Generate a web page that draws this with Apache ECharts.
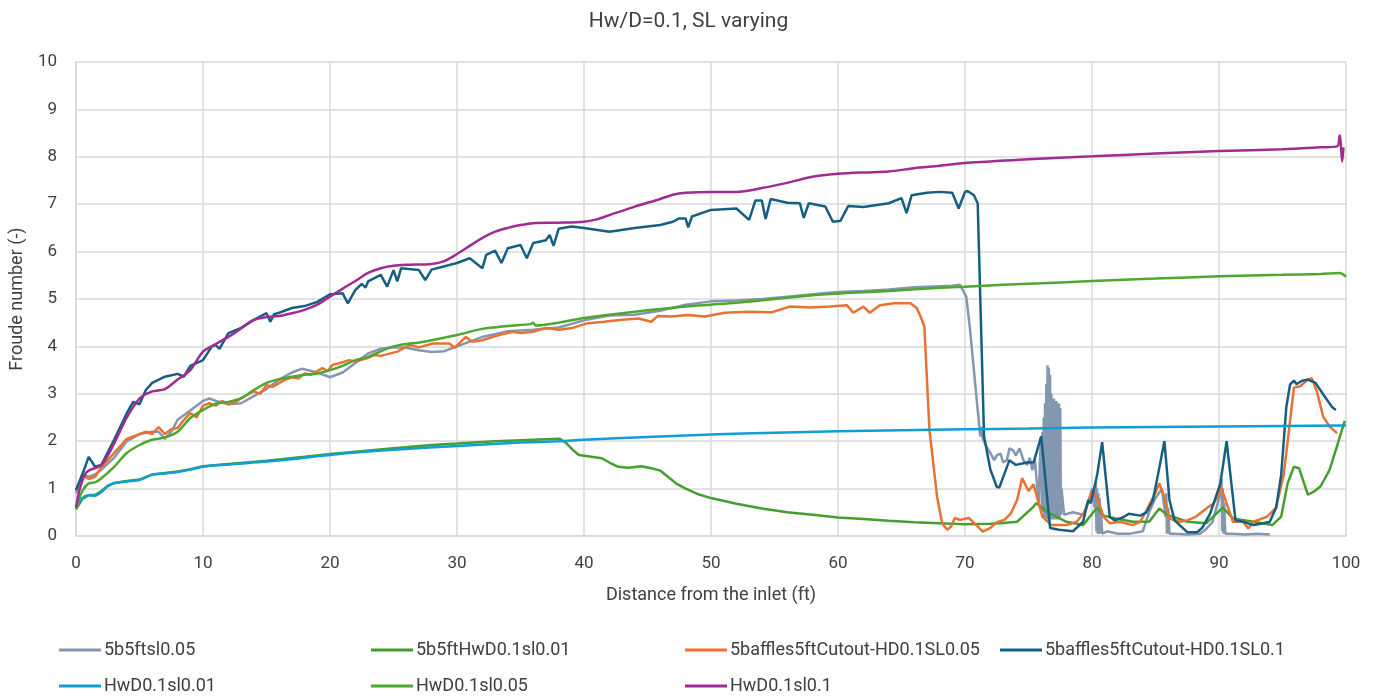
<!DOCTYPE html>
<html style="height: 100%">
<head>
  <meta charset="utf-8">
</head>
<body style="height: 100%; margin: 0">
  <div id="container" style="width: 1377px; height: 696px;"></div>
  <script type="text/javascript" src="https://cdn.jsdelivr.net/npm/echarts@6/dist/echarts.min.js"></script>
  <script type="text/javascript">
    // series names (legend order)
    var seriesNames = ['5b5ftsl0.05', '5b5ftHwD0.1sl0.01', '5baffles5ftCutout-HD0.1SL0.05',
                       '5baffles5ftCutout-HD0.1SL0.1', 'HwD0.1sl0.01', 'HwD0.1sl0.05', 'HwD0.1sl0.1'];
    var xTicks = [0, 10, 20, 30, 40, 50, 60, 70, 80, 90, 100];
    var yTicks = [0, 1, 2, 3, 4, 5, 6, 7, 8, 9, 10];

    // [distance (ft), Froude number]
    var b5ftsl005 = [[0,0.9],[0.5,1.3],[1,1.25],[1.5,1.3],[2,1.4],[3,1.65],[4,2.0],[5,2.15],[6,2.2],[6.5,2.2],[7,2.05],[7.5,2.2],[8,2.45],[9,2.65],[10,2.85],[10.5,2.9],[11,2.85],[12,2.78],[13,2.8],[14,2.95],[15,3.1],[16,3.3],[17,3.45],[17.8,3.53],[19,3.45],[20,3.35],[21,3.45],[22,3.65],[23,3.85],[24,3.95],[25,3.98],[26,3.97],[27,3.92],[28,3.88],[29,3.9],[30,4.0],[32,4.2],[34,4.32],[36,4.35],[38,4.4],[40,4.55],[42,4.65],[44,4.67],[46,4.75],[48,4.88],[50,4.95],[52,4.97],[54,5.0],[56,5.05],[58,5.1],[60,5.15],[62,5.17],[64,5.2],[66,5.25],[68,5.27],[69,5.28],[69.6,5.3],[70.1,5.05],[70.4,4.35],[70.7,3.5],[71.0,2.66],[71.2,2.1],[71.3,2.3],[71.4,2.05],[71.7,1.88],[72.0,1.75],[72.3,1.6],[72.5,1.7],[72.8,1.74],[73.0,1.55],[73.3,1.6],[73.5,1.85],[73.8,1.8],[74.0,1.7],[74.3,1.85],[74.6,1.6],[74.9,1.5],[75.1,1.65],[75.3,1.39],[75.5,1.6],[75.8,0.7],[75.9,1.6],[76.0,2.1],[76.05,0.6],[76.1,2.2],[76.15,0.5],[76.2,2.5],[76.25,0.4],[76.3,2.8],[76.35,0.4],[76.4,3.2],[76.45,0.35],[76.5,3.6],[76.55,0.35],[76.6,3.55],[76.65,0.35],[76.7,3.4],[76.75,0.35],[76.8,3.0],[76.85,0.35],[76.9,2.85],[76.95,0.35],[77.0,2.9],[77.05,0.35],[77.1,2.8],[77.15,0.35],[77.2,2.85],[77.25,0.35],[77.3,2.75],[77.35,0.35],[77.4,2.8],[77.45,0.4],[77.5,2.7],[77.55,0.45],[77.6,1.0],[77.8,0.45],[78.5,0.5],[79.3,0.45],[79.7,0.7],[80.0,1.0],[80.2,0.6],[80.3,1.15],[80.35,0.1],[80.4,1.0],[80.45,0.05],[80.5,0.9],[80.55,0.05],[80.6,0.8],[80.65,0.05],[80.7,0.6],[80.8,0.05],[81.2,0.1],[82,0.05],[83,0.05],[84,0.1],[84.5,0.5],[85.0,0.8],[85.5,1.0],[85.8,0.4],[85.85,0.9],[85.9,0.05],[86.0,0.6],[86.1,0.05],[86.5,0.05],[87.5,0.03],[88.5,0.05],[89.0,0.15],[89.5,0.3],[90.0,0.8],[90.2,1.2],[90.25,0.1],[90.3,1.0],[90.35,0.05],[90.4,0.7],[90.5,0.05],[91,0.05],[92,0.03],[93,0.05],[94,0.03]];

    var b5ftHwD01sl001 = [[0,0.56],[0.5,0.78],[1,0.86],[1.5,0.87],[2,0.95],[2.5,1.06],[3,1.12],[4,1.16],[5,1.19],[6,1.3],[7,1.33],[8,1.36],[9,1.41],[10,1.47],[12,1.52],[15,1.59],[18,1.67],[20,1.73],[22,1.78],[25,1.85],[28,1.92],[30,1.95],[33,2.0],[35,2.02],[37,2.04],[38.1,2.05],[38.6,1.96],[39.1,1.82],[39.6,1.71],[40.6,1.67],[41.4,1.64],[42,1.55],[42.7,1.46],[43.5,1.44],[44.5,1.47],[45.3,1.43],[46,1.38],[46.6,1.25],[47.3,1.1],[48,1.0],[49,0.88],[50,0.8],[52,0.68],[54,0.58],[56,0.5],[58,0.45],[60,0.39],[62,0.36],[64,0.32],[66,0.29],[68,0.27],[70,0.25],[72,0.26],[72.8,0.27],[74.1,0.3],[75.4,0.62],[75.6,0.69],[76.7,0.47],[78,0.3],[79.3,0.23],[80.4,0.6],[80.9,0.43],[81.9,0.37],[83.2,0.3],[84.5,0.3],[85.3,0.58],[85.9,0.45],[87.5,0.3],[89,0.27],[90.3,0.6],[91.1,0.37],[92.7,0.3],[94.2,0.23],[94.9,0.41],[95.4,1.11],[95.9,1.46],[96.3,1.43],[96.7,1.11],[97,0.87],[97.5,0.94],[98,1.05],[98.7,1.39],[99.3,1.9],[99.9,2.43]];

    var cutoutSL005 = [[0,0.95],[0.5,1.3],[1,1.2],[1.5,1.25],[2,1.45],[3,1.75],[4,2.05],[4.5,2.1],[5,2.15],[5.5,2.2],[6,2.15],[6.5,2.3],[7,2.15],[7.5,2.25],[8,2.28],[8.5,2.45],[9,2.59],[9.5,2.5],[10,2.75],[10.5,2.8],[11,2.75],[11.5,2.85],[12,2.78],[12.5,2.82],[13,2.9],[13.5,2.98],[14,3.05],[14.5,3.0],[15,3.18],[15.5,3.15],[16.4,3.29],[17,3.35],[17.5,3.32],[18,3.43],[18.5,3.4],[19.4,3.54],[19.8,3.48],[20.2,3.61],[20.8,3.65],[21.5,3.71],[22,3.68],[22.9,3.75],[23.5,3.82],[24,3.8],[25.3,3.89],[26.3,4.03],[27,3.98],[28.1,4.06],[29.4,4.06],[29.8,3.97],[30.7,4.2],[31.2,4.1],[32,4.13],[33.3,4.24],[34.4,4.31],[35,4.28],[36,4.31],[37,4.39],[38,4.35],[39.1,4.39],[40.3,4.49],[41.6,4.52],[43,4.56],[44.3,4.59],[45.3,4.52],[45.8,4.64],[46.9,4.63],[48.2,4.66],[49.5,4.63],[51.1,4.71],[52.9,4.73],[54.8,4.72],[56.2,4.84],[57.8,4.82],[59.4,4.84],[60.7,4.87],[61.2,4.71],[62,4.84],[62.5,4.71],[63.3,4.87],[64.4,4.91],[65.7,4.91],[66.2,4.81],[66.5,4.63],[66.8,4.42],[67.2,2.24],[67.8,0.83],[68.2,0.27],[68.6,0.13],[68.9,0.2],[69.2,0.38],[69.6,0.34],[70.3,0.38],[70.9,0.23],[71.4,0.09],[72,0.17],[72.5,0.29],[73.1,0.34],[73.6,0.47],[74.1,0.76],[74.5,1.22],[75,0.95],[75.4,1.09],[75.8,0.69],[76.1,0.41],[76.8,0.23],[78,0.23],[78.8,0.3],[79.4,0.5],[80,0.95],[80.4,0.82],[80.9,0.41],[81.4,0.27],[82.2,0.3],[83.2,0.23],[83.8,0.3],[84.4,0.6],[85,0.92],[85.3,1.11],[85.7,0.82],[86.1,0.37],[86.9,0.3],[87.5,0.33],[88.2,0.41],[89,0.58],[89.6,0.69],[90.2,1.0],[90.6,0.69],[91.1,0.3],[91.9,0.3],[92.3,0.16],[92.7,0.3],[93.8,0.41],[94.5,0.6],[95.1,1.3],[95.6,2.44],[95.9,3.13],[96.4,3.16],[97,3.3],[97.3,3.33],[97.7,3.06],[98.2,2.52],[98.7,2.31],[99.3,2.17]];

    var cutoutSL01 = [[0,0.97],[0.5,1.3],[1,1.67],[1.5,1.46],[2,1.5],[3,2.03],[4,2.59],[4.5,2.83],[5,2.78],[5.5,3.08],[6,3.23],[7,3.36],[8,3.42],[8.5,3.36],[9,3.59],[10,3.71],[10.7,4.0],[11,4.03],[11.3,3.95],[12,4.28],[13,4.39],[14,4.56],[15,4.7],[15.3,4.52],[15.6,4.68],[16,4.71],[17,4.81],[18,4.85],[19,4.94],[20,5.1],[21,5.12],[21.4,4.91],[22,5.19],[22.5,5.32],[22.8,5.24],[23,5.37],[24,5.51],[24.5,5.26],[25,5.61],[25.3,5.37],[25.6,5.65],[27,5.61],[27.5,5.4],[28,5.62],[30,5.76],[31,5.86],[32,5.65],[32.3,5.93],[33,6.02],[33.5,5.76],[34,6.07],[35,6.14],[35.5,5.86],[36,6.18],[37,6.24],[37.3,6.35],[37.6,6.12],[38,6.48],[39,6.53],[40,6.5],[42,6.42],[44,6.5],[46,6.56],[47,6.63],[47.5,6.7],[48,6.7],[48.2,6.51],[48.5,6.74],[50,6.88],[52,6.91],[53,6.67],[53.5,7.08],[54,7.08],[54.3,6.69],[54.7,7.11],[56,7.03],[57,7.02],[57.3,6.71],[57.7,7.02],[59,6.95],[59.6,6.63],[60.2,6.65],[60.8,6.96],[62,6.94],[64,7.02],[65,7.13],[65.4,6.81],[65.8,7.19],[67,7.24],[68,7.26],[69,7.24],[69.5,6.91],[70,7.26],[70.2,7.28],[70.7,7.19],[71,7.02],[71.5,2.1],[72,1.4],[72.5,1.04],[72.7,1.02],[73.5,1.6],[74,1.5],[74.9,1.55],[75.4,1.55],[76,2.1],[76.1,2.12],[76.7,0.17],[77.4,0.13],[78.5,0.1],[79.3,0.3],[79.7,0.76],[79.9,0.69],[80.4,1.28],[80.8,1.98],[81.4,0.4],[81.8,0.33],[82.5,0.4],[82.9,0.47],[83.8,0.43],[84.3,0.5],[84.8,0.76],[85.2,1.3],[85.7,2.0],[86.1,0.76],[86.5,0.33],[87.5,0.08],[88.3,0.08],[88.7,0.18],[89.3,0.47],[90.1,1.1],[90.6,2.0],[91.3,0.33],[91.9,0.3],[92.7,0.23],[93.5,0.27],[94,0.3],[94.5,0.6],[94.9,1.3],[95.3,2.72],[95.6,3.2],[95.9,3.28],[96.1,3.2],[96.5,3.27],[97,3.3],[97.6,3.23],[98.2,2.99],[98.9,2.72],[99.2,2.66]];

    var HwD01sl001 = [[0,0.59],[0.5,0.8],[1,0.86],[1.5,0.85],[2,0.93],[2.5,1.05],[3,1.11],[4,1.15],[5,1.18],[6,1.29],[7,1.32],[8,1.35],[9,1.4],[10,1.46],[12,1.51],[15,1.57],[18,1.65],[20,1.71],[22,1.76],[25,1.82],[30,1.9],[35,1.97],[38,2.0],[40,2.03],[45,2.09],[50,2.14],[55,2.18],[60,2.21],[65,2.23],[70,2.25],[75,2.27],[80,2.29],[85,2.3],[90,2.31],[95,2.32],[100,2.33]];

    var HwD01sl005 = [[0,0.56],[0.5,0.95],[1,1.11],[1.5,1.13],[2,1.22],[3,1.46],[4,1.75],[5,1.92],[6,2.03],[7,2.08],[8,2.2],[9,2.49],[10,2.66],[11,2.79],[12,2.83],[13,2.91],[14,3.08],[15,3.23],[16,3.31],[17,3.36],[18,3.4],[19,3.43],[20,3.5],[21,3.59],[22,3.71],[23,3.78],[25,4.0],[27.4,4.1],[30,4.24],[32,4.37],[34,4.43],[35.8,4.47],[36,4.5],[36.2,4.44],[38,4.5],[40,4.6],[42,4.67],[44,4.73],[46,4.79],[48,4.84],[50,4.88],[52,4.92],[55,5.0],[58,5.08],[61,5.13],[64,5.17],[67,5.22],[70,5.26],[73,5.3],[76,5.33],[80,5.38],[85,5.43],[90,5.48],[95,5.51],[98,5.53],[99.5,5.55],[100,5.47]];

    var HwD01sl01 = [[0,0.6],[0.3,1.0],[0.7,1.3],[1,1.38],[2,1.5],[3,1.95],[4,2.5],[5,2.9],[6,3.05],[7,3.1],[8,3.3],[9,3.5],[10,3.89],[11,4.05],[12,4.2],[13,4.38],[14,4.56],[15,4.62],[16,4.64],[17,4.7],[18,4.77],[19,4.88],[20,5.05],[21,5.22],[22,5.38],[23,5.55],[24,5.65],[25,5.7],[26,5.72],[28,5.74],[29,5.8],[30,5.95],[31,6.12],[32,6.29],[33,6.42],[34,6.5],[35,6.56],[36,6.6],[38,6.61],[40,6.63],[41,6.68],[42,6.77],[44,6.95],[46,7.11],[47,7.2],[48,7.24],[50,7.26],[52,7.26],[54,7.34],[56,7.45],[58,7.58],[60,7.64],[62,7.67],[64,7.69],[66,7.76],[68,7.81],[70,7.87],[72,7.9],[75,7.95],[80,8.01],[85,8.07],[90,8.12],[95,8.16],[98,8.2],[99.3,8.22],[99.5,8.45],[99.7,7.9],[99.8,8.2]];

    var seriesData = [b5ftsl005, b5ftHwD01sl001, cutoutSL005, cutoutSL01, HwD01sl001, HwD01sl005, HwD01sl01];
    var colors = ['#8497B0', '#449F2C', '#E97132', '#156082', '#0F9ED5', '#4EA72E', '#A02B93'];
    var smoothFlags = [false, false, false, false, true, true, true];

    var font = 'Roboto, "Liberation Sans", sans-serif';
    var dom = document.getElementById('container');
    var myChart = echarts.init(dom);

    // legend slots: two rows, four columns
    var legendPos = [[59, 641], [371, 641], [685, 641], [1000, 641],
                     [59, 677], [371, 677], [685, 677]];
    var legends = seriesNames.map(function (name, i) {
      return {
        data: [name],
        left: legendPos[i][0],
        top: legendPos[i][1],
        padding: 0,
        icon: 'rect',
        itemWidth: 42,
        itemHeight: 3,
        itemGap: 0,
        selectedMode: false,
        textStyle: {fontFamily: font, fontSize: 18, color: '#404040', padding: [0, 0, 0, -2]}
      };
    });

    var option = {
      animation: false,
      backgroundColor: '#ffffff',
      color: colors,
      title: {
        text: 'Hw/D=0.1, SL varying',
        left: 'center',
        top: 11,
        padding: 0,
        textStyle: {fontFamily: font, fontSize: 21, fontWeight: 'normal', color: '#404040'}
      },
      legend: legends,
      grid: {left: 76, right: 31, top: 62, bottom: 160},
      xAxis: {
        type: 'value',
        min: xTicks[0],
        max: xTicks[xTicks.length - 1],
        interval: 10,
        name: 'Distance from the inlet (ft)',
        nameLocation: 'middle',
        nameGap: 50,
        nameTextStyle: {fontFamily: font, fontSize: 18, color: '#404040'},
        axisLine: {lineStyle: {color: '#d9d9d9', width: 1.5}},
        axisTick: {show: false},
        axisLabel: {fontFamily: font, fontSize: 17, color: '#404040', margin: 19},
        splitLine: {show: true, lineStyle: {color: '#d9d9d9', width: 1.5}}
      },
      yAxis: {
        type: 'value',
        min: yTicks[0],
        max: yTicks[yTicks.length - 1],
        interval: 1,
        name: 'Froude number (-)',
        nameLocation: 'middle',
        nameGap: 49,
        nameTextStyle: {fontFamily: font, fontSize: 18, color: '#404040'},
        axisLine: {show: true, lineStyle: {color: '#d9d9d9', width: 1.5}},
        axisTick: {show: false},
        axisLabel: {fontFamily: font, fontSize: 17, color: '#404040', margin: 19},
        splitLine: {show: true, lineStyle: {color: '#d9d9d9', width: 1.5}}
      },
      series: seriesNames.map(function (name, i) {
        return {
          name: name,
          type: 'line',
          data: seriesData[i],
          showSymbol: false,
          symbol: 'none',
          smooth: smoothFlags[i] ? 0.3 : false,
          lineStyle: {width: 2.5, color: colors[i]},
          itemStyle: {color: colors[i]}
        };
      })
    };

    myChart.setOption(option, true);
  </script>
</body>
</html>
